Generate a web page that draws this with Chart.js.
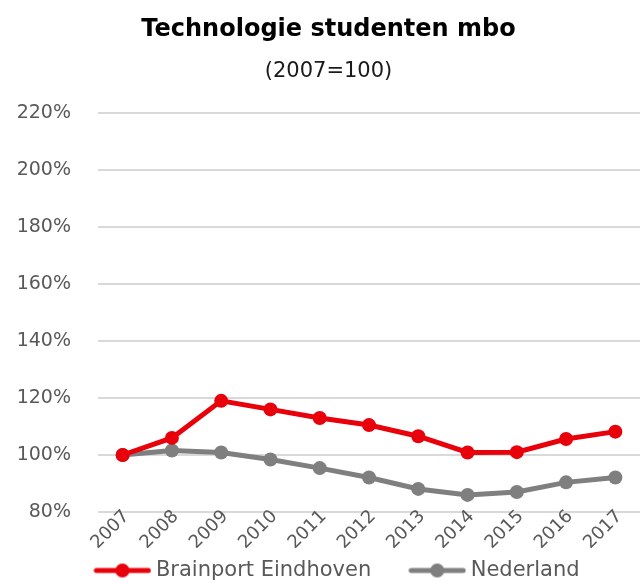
<!DOCTYPE html>
<html>
<head>
<meta charset="utf-8">
<script src="https://cdn.jsdelivr.net/npm/chart.js@4"></script>
<style>
  html, body { margin: 0; padding: 0; background: #fff; }
  #wrap { width: 640px; height: 583px; }
</style>
</head>
<body>
<div id="wrap"><canvas id="myChart"></canvas></div>
<script>
const years = ['2007', '2008', '2009', '2010', '2011', '2012', '2013', '2014', '2015', '2016', '2017'];
const brainport = [100, 106, 119, 116, 113, 110.5, 106.6, 100.9, 101, 105.6, 108.2];
const nederland = [100, 101.6, 100.9, 98.4, 95.4, 92.1, 88.1, 86.0, 87.0, 90.4, 92.1];
const yTicks = [80, 100, 120, 140, 160, 180, 200, 220];

const red = '#e8000b';
const grey = '#7f7f7f';

// little line + dot icon for the legend
const legendIcon = (color) => {
    const c = document.createElement('canvas');
    c.width = 58; c.height = 16;
    const g = c.getContext('2d');
    g.strokeStyle = color;
    g.lineWidth = 5;
    g.lineCap = 'round';
    g.beginPath();
    g.moveTo(3, 8); g.lineTo(55, 8);
    g.stroke();
    g.fillStyle = color;
    g.beginPath();
    g.arc(29, 8, 7, 0, Math.PI * 2);
    g.fill();
    return c;
};

// x labels sit partly inside the plot, so don't clip them to the axis box;
// also nudge the legend a bit to the right like the original
const tweaks = {
    id: 'tweaks',
    afterLayout: (chart) => {
        chart.scales.x._computeLabelArea = () => undefined;
        chart.legend.left += 11;
        chart.legend.right += 11;
    }
};

const fontFam = "'DejaVu Sans', sans-serif";

const ctx = document.getElementById('myChart').getContext('2d');
const myChart = new Chart(ctx, {
    type: 'line',
    data: {
        labels: years,
        datasets: [{
            label: 'Brainport Eindhoven',
            data: brainport,
            borderColor: red,
            backgroundColor: red,
            borderWidth: 5,
            pointRadius: 7,
            pointHoverRadius: 7,
            pointBackgroundColor: red,
            pointBorderWidth: 0,
            tension: 0
        }, {
            label: 'Nederland',
            data: nederland,
            borderColor: grey,
            backgroundColor: grey,
            borderWidth: 5,
            pointRadius: 7,
            pointHoverRadius: 7,
            pointBackgroundColor: grey,
            pointBorderWidth: 0,
            tension: 0
        }]
    },
    plugins: [tweaks],
    options: {
        responsive: true,
        maintainAspectRatio: false,
        animation: false,
        layout: {
            autoPadding: false,
            padding: { left: 17, right: 0, top: 10, bottom: -8 }
        },
        scales: {
            x: {
                offset: true,
                grid: { display: false },
                border: { display: false },
                afterFit: (scale) => {
                    scale.height = 5;
                    scale.paddingLeft = 0;
                    scale.paddingRight = 0;
                },
                ticks: {
                    color: '#595959',
                    font: { family: fontFam, size: 18 },
                    maxRotation: 45,
                    minRotation: 45,
                    autoSkip: false,
                    padding: -14,
                    labelOffset: 4
                }
            },
            y: {
                min: 80,
                max: 220,
                afterBuildTicks: (axis) => { axis.ticks = yTicks.map(v => ({ value: v })); },
                afterFit: (scale) => { scale.width = 81; },
                grid: { color: '#d9d9d9', lineWidth: 2, drawTicks: false },
                border: { display: false },
                ticks: {
                    color: '#595959',
                    font: { family: fontFam, size: 19 },
                    padding: 27,
                    callback: (v) => v + '%'
                }
            }
        },
        plugins: {
            title: {
                display: true,
                text: 'Technologie studenten mbo',
                color: '#000',
                font: { family: fontFam, size: 24, weight: 'bold' },
                padding: { top: 5, bottom: 15 }
            },
            subtitle: {
                display: true,
                text: '(2007=100)',
                color: '#1a1a1a',
                font: { family: fontFam, size: 21 },
                padding: { bottom: 29 }
            },
            legend: {
                position: 'bottom',
                labels: {
                    usePointStyle: true,
                    pointStyleWidth: 46,
                    color: '#595959',
                    font: { family: fontFam, size: 21 },
                    padding: 43,
                    generateLabels: (chart) => chart.data.datasets.map((ds, i) => ({
                        text: ds.label,
                        fontColor: '#595959',
                        pointStyle: legendIcon(ds.borderColor),
                        datasetIndex: i,
                        hidden: false,
                        lineWidth: 0
                    }))
                }
            },
            tooltip: { enabled: false }
        }
    }
});
</script>
</body>
</html>
